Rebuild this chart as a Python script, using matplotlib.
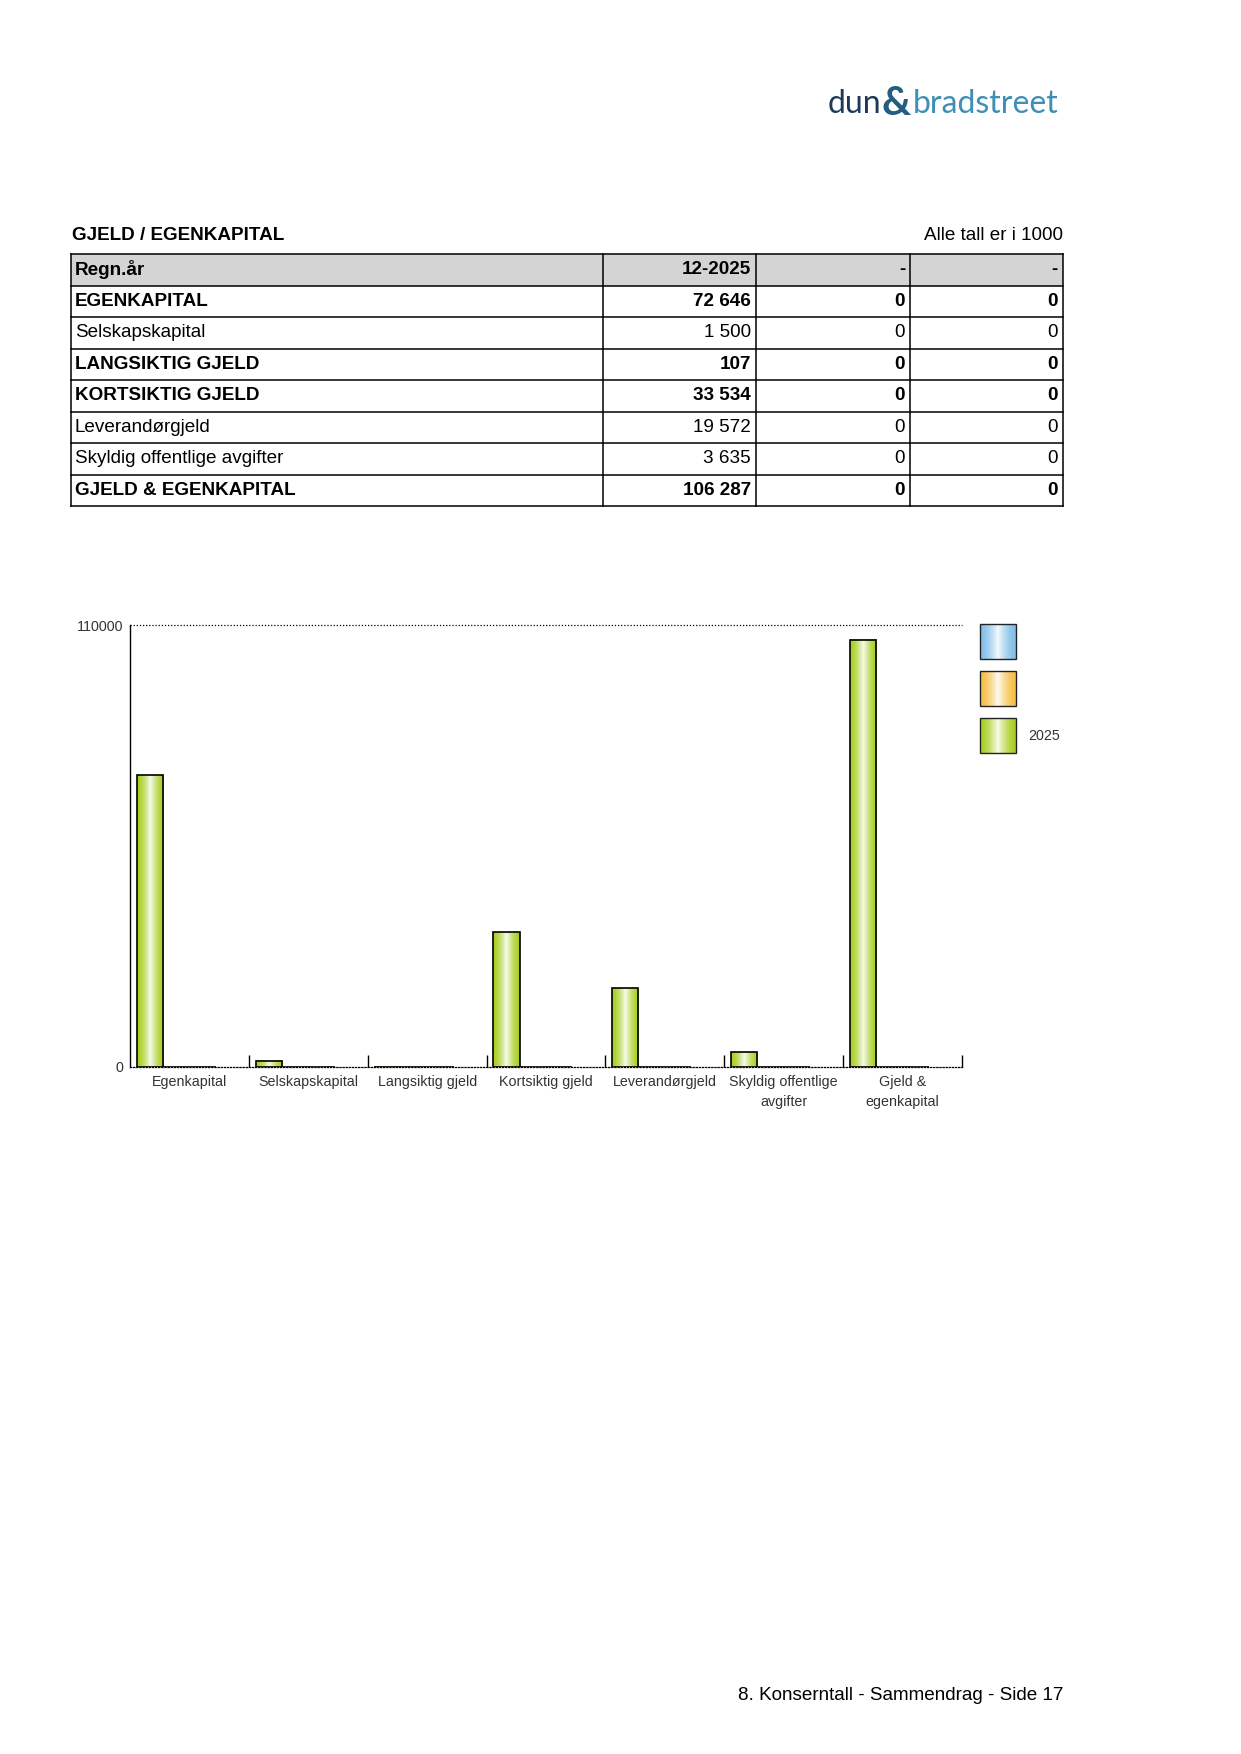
import matplotlib
matplotlib.use("Agg")
import matplotlib.pyplot as plt
from matplotlib.patches import Rectangle
from matplotlib.colors import to_rgb
import numpy as np

W, H, DPI = 1241, 1754, 100
plt.rcParams['font.family'] = ['Liberation Sans', 'DejaVu Sans']

# table data
table_title = "GJELD / EGENKAPITAL"
table_note = "Alle tall er i 1000"
col_headers = ["Regn.år", "12-2025", "-", "-"]
row_labels = ["EGENKAPITAL", "Selskapskapital", "LANGSIKTIG GJELD", "KORTSIKTIG GJELD",
              "Leverandørgjeld", "Skyldig offentlige avgifter", "GJELD & EGENKAPITAL"]
row_bold = [True, False, True, True, False, False, True]
values_2025 = [72646, 1500, 107, 33534, 19572, 3635, 106287]
values_prev1 = [0, 0, 0, 0, 0, 0, 0]
values_prev2 = [0, 0, 0, 0, 0, 0, 0]

# chart data
categories = ["Egenkapital", "Selskapskapital", "Langsiktig gjeld", "Kortsiktig gjeld",
              "Leverandørgjeld", "Skyldig offentlige\navgifter", "Gjeld &\negenkapital"]
series_names = ["", "", "2025"]
series_colors = ["#82bfe9", "#f6c048", "#a9cf22"]
series_values = [values_prev1, values_prev2, values_2025]
y_max = 110000

footer = "8. Konserntall - Sammendrag - Side 17"

FS = 13.6  # page text size
LFS = 10.3  # chart label size


def fmt(v):
    return f"{v:,}".replace(",", " ")


def gradient(color, n=64):
    t = np.linspace(0, 1, n)
    w = np.clip(1 - np.abs(t - 0.5) * 2, 0, 1) ** 1.6
    base = np.array(to_rgb(color))
    rgb = base[None, :] * (1 - 0.92 * w[:, None]) + 0.92 * w[:, None]
    return rgb[None, :, :]


fig = plt.figure(figsize=(W / DPI, H / DPI), dpi=DPI)
page = fig.add_axes([0, 0, 1, 1])
page.set_xlim(0, W)
page.set_ylim(H, 0)
page.axis('off')

# logo
logo_font = ['Lato', 'DejaVu Sans']
page.text(881, 113, "dun", fontsize=23, color="#1e3a5a", ha='right', va='baseline',
          family=logo_font)
page.text(896, 115, "&", fontsize=29, color="#245d80", ha='center', va='baseline',
          family=logo_font, fontweight='bold')
page.text(913, 113, "bradstreet", fontsize=23, color="#3d8fb6", ha='left', va='baseline',
          family=logo_font)

# table
cols = [71, 603, 756, 910, 1063]
top, rh = 254, 31.5
nrows = len(row_labels) + 1
page.text(72, 236, table_title, fontsize=FS, fontweight='bold', va='center')
page.text(1063, 236, table_note, fontsize=FS, ha='right', va='center')
page.add_patch(Rectangle((cols[0], top), cols[-1] - cols[0], rh, facecolor="#d4d4d4", edgecolor='none'))
for r in range(nrows + 1):
    page.plot([cols[0], cols[-1]], [top + r * rh] * 2, color='black', lw=1.1)
for c in cols:
    page.plot([c, c], [top, top + nrows * rh], color='black', lw=1.1)

header_y = top + rh / 2
page.text(cols[0] + 4, header_y, col_headers[0], fontsize=FS, fontweight='bold', va='center')
for j in range(1, 4):
    page.text(cols[j + 1] - 5, header_y, col_headers[j], fontsize=FS, fontweight='bold',
              va='center', ha='right')
for i, lab in enumerate(row_labels):
    y = top + (i + 1.5) * rh
    fw = 'bold' if row_bold[i] else 'normal'
    page.text(cols[0] + 4, y, lab, fontsize=FS, fontweight=fw, va='center')
    for j, vals in enumerate([values_2025, values_prev1, values_prev2]):
        page.text(cols[j + 2] - 5, y, fmt(vals[i]), fontsize=FS, fontweight=fw,
                  va='center', ha='right')

# chart
ax_l, ax_r, ax_b, ax_t = 130, 962, 1067, 625
ax = fig.add_axes([ax_l / W, 1 - ax_b / H, (ax_r - ax_l) / W, (ax_b - ax_t) / H])
ax.patch.set_alpha(0)
n = len(categories)
x = np.arange(n)
bar_w = 0.222
offsets = [0.278, 0.5, 0.056]
for vals, col, off in zip(series_values, series_colors, offsets):
    bars = ax.bar(x + off, vals, width=bar_w, align='edge', facecolor='none',
                  edgecolor='black', linewidth=1.2, zorder=3)
    for b in bars:
        if b.get_height() > 0:
            ax.imshow(gradient(col), extent=(b.get_x(), b.get_x() + b.get_width(), 0, b.get_height()),
                      aspect='auto', zorder=2, interpolation='bilinear')

ax.set_xlim(0, n)
ax.set_ylim(0, y_max)
ax.axhline(y_max, color='black', lw=0.9, ls=(0, (1, 1.5)), clip_on=False)
for s in ['top', 'right']:
    ax.spines[s].set_visible(False)
ax.spines['left'].set_linewidth(1.0)
ax.spines['bottom'].set_linestyle((0, (1, 1.5)))
ax.spines['bottom'].set_linewidth(0.9)

ax.set_yticks([0, y_max])
ax.set_yticklabels(["0", str(y_max)], fontsize=LFS, color="#333333")
ax.tick_params(axis='y', length=0, pad=5)

ax.set_xticks(np.arange(1, n + 1))
ax.set_xticklabels([])
ax.tick_params(axis='x', which='major', direction='in', length=8.5, width=1.0)
ax.set_xticks(x + 0.5, minor=True)
ax.set_xticklabels(categories, minor=True, fontsize=LFS, color="#333333", linespacing=1.55)
ax.tick_params(axis='x', which='minor', length=0, pad=6)

# legend
for i, (name, col) in enumerate(zip(series_names, series_colors)):
    y0 = 624 + i * 47
    page.imshow(gradient(col), extent=(980, 1016, y0 + 35, y0), aspect='auto', zorder=2,
                interpolation='bilinear')
    page.add_patch(Rectangle((980, y0), 36, 35, facecolor='none', edgecolor='#222222', lw=1.0, zorder=3))
    if name:
        page.text(1028, y0 + 18, name, fontsize=LFS, color="#333333", va='center')
page.set_xlim(0, W)
page.set_ylim(H, 0)

page.text(1063, 1695, footer, fontsize=FS, ha='right', va='center')

fig.savefig("out.png", dpi=DPI)
